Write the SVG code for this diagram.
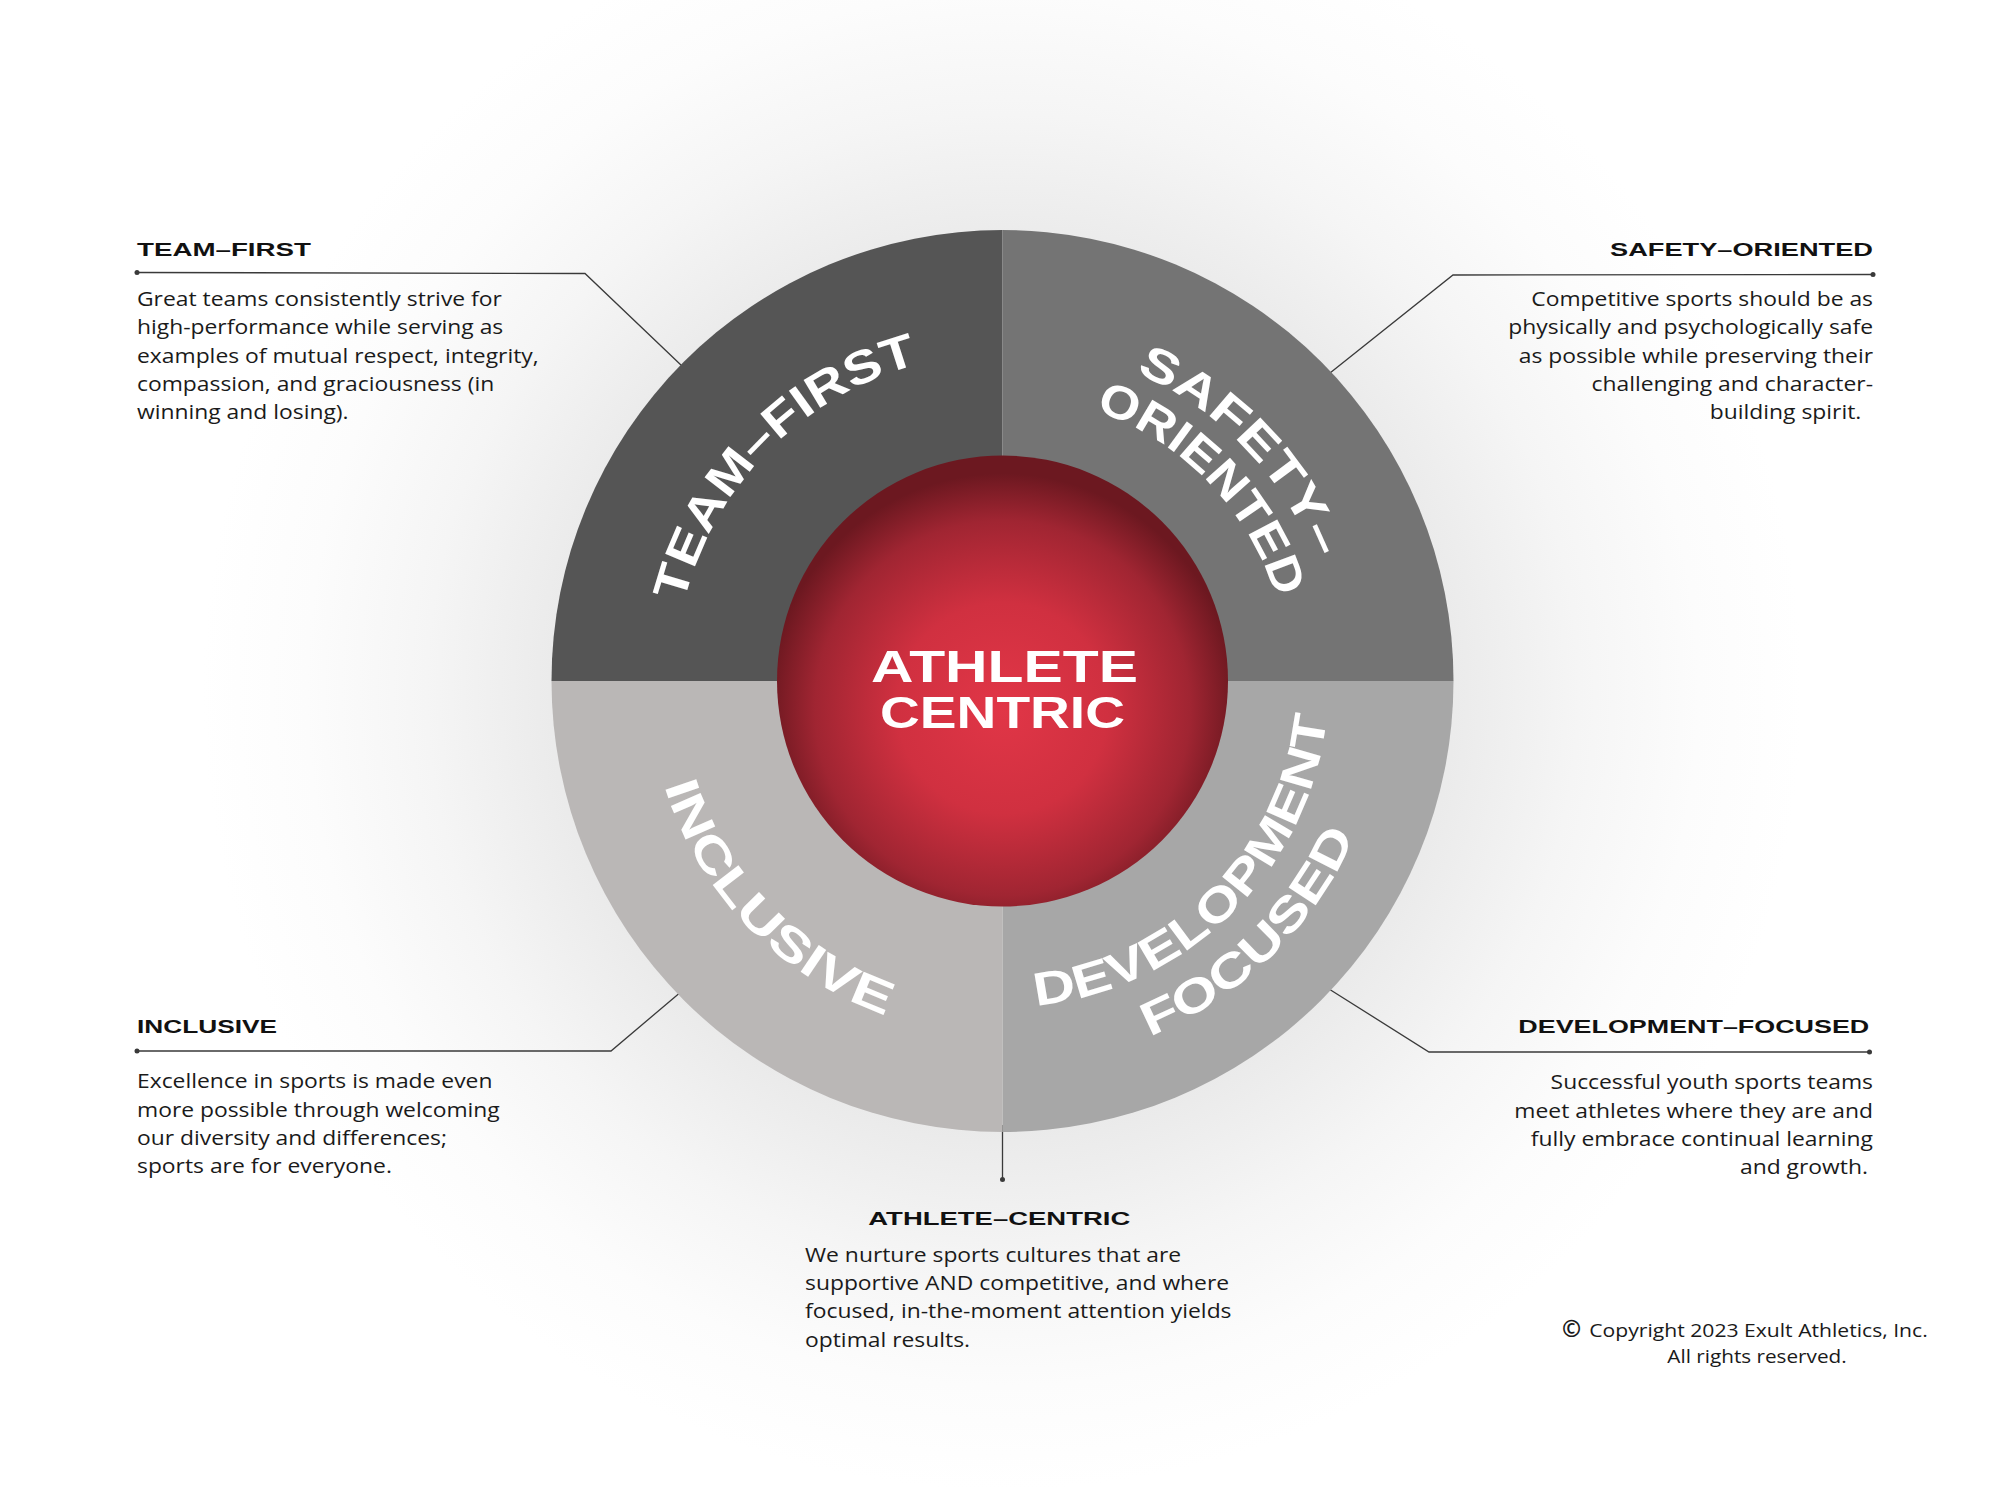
<svg xmlns="http://www.w3.org/2000/svg" width="2000" height="1500" viewBox="0 0 2000 1500">
<defs>
<radialGradient id="glow" gradientUnits="userSpaceOnUse" cx="1002.5" cy="690" r="800">
<stop offset="0.55" stop-color="#eaeaea"/>
<stop offset="0.72" stop-color="#f5f5f5"/>
<stop offset="0.87" stop-color="#fcfcfc"/>
<stop offset="1" stop-color="#ffffff"/>
</radialGradient>
<radialGradient id="ball" cx="0.5" cy="0.56" r="0.52">
<stop offset="0" stop-color="#e13647"/>
<stop offset="0.45" stop-color="#d03040"/>
<stop offset="0.8" stop-color="#a02532"/>
<stop offset="1" stop-color="#6c1820"/>
</radialGradient>
<path id="pTeam" d="M 686.4 768.6 A 328 328 0 0 1 1084.6 363.5"/>
<path id="pSafety" d="M 921.2 355.0 A 336 336 0 0 1 1325.5 773.6"/>
<path id="pOriented" d="M 933.3 403.5 A 286 286 0 0 1 1277.4 759.8"/>
<path id="pInclusive" d="M 662.2 583.4 A 354 354 0 0 0 1088.1 1024.5"/>
<path id="pDevelopment" d="M 916.9 995.9 A 326.3 326.3 0 0 0 1318.0 597.7"/>
<path id="pFocused" d="M 898.7 1051.5 A 384.8 384.8 0 0 0 1375.3 585.6"/>
</defs>
<style>
.arc{font-family:"Liberation Sans",Arial,sans-serif;font-weight:700;font-size:47px;fill:#ffffff;}
.head{font-family:"Liberation Sans",Arial,sans-serif;font-weight:700;font-size:18.5px;fill:#111111;}
.body{font-family:"Open Sans","Liberation Sans",sans-serif;font-size:20.5px;fill:#1a1a1a;}
.copy{font-family:"Open Sans","Liberation Sans",sans-serif;font-size:18.5px;fill:#1a1a1a;}
.conn{fill:none;stroke:#3a3a3a;stroke-width:1.3;}
.dot{fill:#3a3a3a;}
.center{font-family:"Liberation Sans",Arial,sans-serif;font-weight:700;font-size:45px;fill:#ffffff;}
</style>
<rect width="2000" height="1500" fill="#ffffff"/>
<circle cx="1002.5" cy="690" r="800" fill="url(#glow)"/>
<g id="connectors">
<polyline class="conn" points="137,272.5 585,273.5 682,366"/>
<circle class="dot" cx="137" cy="272.5" r="2.5"/>
<polyline class="conn" points="1873,274.5 1453,275 1330,373"/>
<circle class="dot" cx="1873" cy="274.5" r="2.5"/>
<polyline class="conn" points="137,1051 611,1051 682,991"/>
<circle class="dot" cx="137" cy="1051" r="2.5"/>
<polyline class="conn" points="1869.5,1052 1429,1052 1329,989"/>
<circle class="dot" cx="1869.5" cy="1052" r="2.5"/>
<line class="conn" x1="1002.5" y1="1125" x2="1002.5" y2="1179"/>
<circle class="dot" cx="1002.5" cy="1179.5" r="2.5"/>
</g>
<g id="team-first">
<path d="M1002.5 681 L551.5 681 A451 451 0 0 1 1002.5 230 Z" fill="#555555"/>
<text class="arc"><textPath href="#pTeam" startOffset="50%" text-anchor="middle" textLength="351" lengthAdjust="spacingAndGlyphs">TEAM–FIRST</textPath></text>
<text class="head" x="137" y="256" textLength="174" lengthAdjust="spacingAndGlyphs">TEAM–FIRST</text>
<g transform="translate(137,0) scale(1.115,1)">
<text class="body" x="0" y="306">Great teams consistently strive for</text>
<text class="body" x="0" y="334.3">high-performance while serving as</text>
<text class="body" x="0" y="362.7">examples of mutual respect, integrity,</text>
<text class="body" x="0" y="391">compassion, and graciousness (in</text>
<text class="body" x="0" y="419.3">winning and losing).</text>
</g>
</g>
<g id="safety-oriented">
<path d="M1002.5 681 L1002.5 230 A451 451 0 0 1 1453.5 681 Z" fill="#747474"/>
<text class="arc"><textPath href="#pSafety" startOffset="50%" text-anchor="middle" textLength="266" lengthAdjust="spacingAndGlyphs">SAFETY–</textPath></text>
<text class="arc"><textPath href="#pOriented" startOffset="50%" text-anchor="middle" textLength="271" lengthAdjust="spacingAndGlyphs">ORIENTED</textPath></text>
<text class="head" x="1610" y="256" textLength="263" lengthAdjust="spacingAndGlyphs">SAFETY–ORIENTED</text>
<g transform="translate(1873,0) scale(1.115,1)">
<text class="body" text-anchor="end" x="0" y="306">Competitive sports should be as</text>
<text class="body" text-anchor="end" x="0" y="334.3">physically and psychologically safe</text>
<text class="body" text-anchor="end" x="0" y="362.7">as possible while preserving their</text>
<text class="body" text-anchor="end" x="0" y="391">challenging and character-</text>
<text class="body" text-anchor="end" x="-10.5" y="419.3">building spirit.</text>
</g>
</g>
<g id="development-focused">
<path d="M1002.5 681 L1453.5 681 A451 451 0 0 1 1002.5 1132 Z" fill="#a7a7a7"/>
<text class="arc"><textPath href="#pDevelopment" startOffset="50%" text-anchor="middle" textLength="443" lengthAdjust="spacingAndGlyphs">DEVELOPMENT</textPath></text>
<text class="arc"><textPath href="#pFocused" startOffset="50%" text-anchor="middle" textLength="294" lengthAdjust="spacingAndGlyphs">FOCUSED</textPath></text>
<text class="head" x="1518.3" y="1032.7" textLength="351" lengthAdjust="spacingAndGlyphs">DEVELOPMENT–FOCUSED</text>
<g transform="translate(1873,0) scale(1.115,1)">
<text class="body" text-anchor="end" x="0" y="1089.3">Successful youth sports teams</text>
<text class="body" text-anchor="end" x="0" y="1117.7">meet athletes where they are and</text>
<text class="body" text-anchor="end" x="0" y="1146">fully embrace continual learning</text>
<text class="body" text-anchor="end" x="-4.5" y="1174.3">and growth.</text>
</g>
</g>
<g id="inclusive">
<path d="M1002.5 681 L1002.5 1132 A451 451 0 0 1 551.5 681 Z" fill="#bab7b6"/>
<text class="arc"><textPath href="#pInclusive" startOffset="50%" text-anchor="middle" textLength="331" lengthAdjust="spacingAndGlyphs">INCLUSIVE</textPath></text>
<text class="head" x="137" y="1032.7" textLength="140" lengthAdjust="spacingAndGlyphs">INCLUSIVE</text>
<g transform="translate(137,0) scale(1.115,1)">
<text class="body" x="0" y="1088.3">Excellence in sports is made even</text>
<text class="body" x="0" y="1116.7">more possible through welcoming</text>
<text class="body" x="0" y="1145">our diversity and differences;</text>
<text class="body" x="0" y="1173.3">sports are for everyone.</text>
</g>
</g>
<g id="athlete-centric">
<circle cx="1002.5" cy="681" r="225.5" fill="url(#ball)"/>
<text class="center" x="1004.5" y="682" text-anchor="middle" textLength="267" lengthAdjust="spacingAndGlyphs">ATHLETE</text>
<text class="center" x="1002.5" y="728" text-anchor="middle" textLength="245" lengthAdjust="spacingAndGlyphs">CENTRIC</text>
<text class="head" x="868.3" y="1225" textLength="262" lengthAdjust="spacingAndGlyphs">ATHLETE–CENTRIC</text>
<g transform="translate(805,0) scale(1.115,1)">
<text class="body" x="0" y="1261.7">We nurture sports cultures that are</text>
<text class="body" x="0" y="1290">supportive AND competitive, and where</text>
<text class="body" x="0" y="1318.3">focused, in-the-moment attention yields</text>
<text class="body" x="0" y="1346.7">optimal results.</text>
</g>
</g>
<g id="copyright">
<text class="copy" x="1562" y="1337" style="font-size:23px;font-weight:700">©</text>
<text class="copy" x="1589.3" y="1336.7" textLength="338.4" lengthAdjust="spacingAndGlyphs">Copyright 2023 Exult Athletics, Inc.</text>
<g transform="translate(1757,0) scale(1.12,1)">
<text class="copy" x="0" y="1363.3" text-anchor="middle">All rights reserved.</text>
</g>
</g>
</svg>
